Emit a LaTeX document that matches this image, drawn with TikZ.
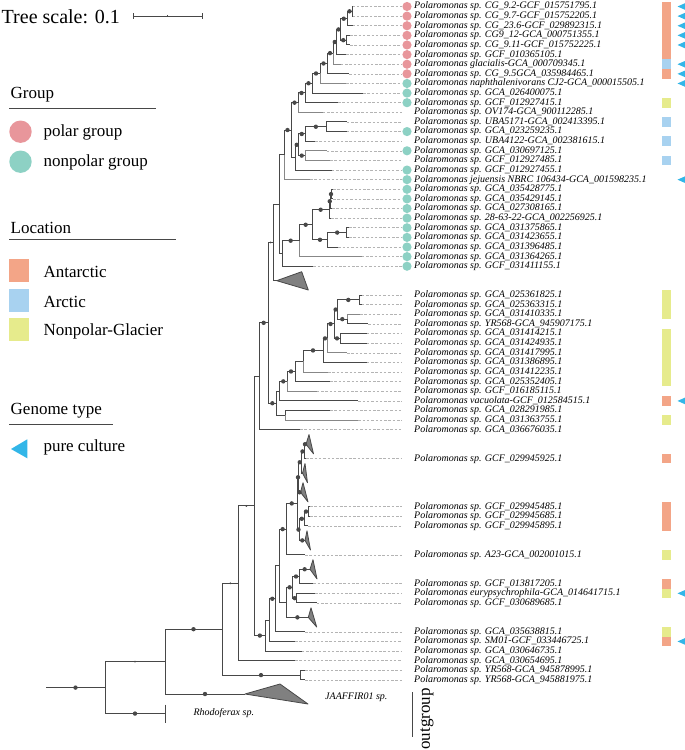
\documentclass[tikz,border=0pt]{standalone}
\usepackage{fontspec}
\setmainfont{Liberation Serif}
\usetikzlibrary{calc}
\definecolor{ast}{RGB}{72,72,72}
\definecolor{astlight}{RGB}{135,135,135}
\definecolor{leader}{RGB}{180,180,180}
\definecolor{polar}{RGB}{232,150,155}
\definecolor{nonpolar}{RGB}{141,209,196}
\definecolor{antarctic}{RGB}{243,165,135}
\definecolor{arctic}{RGB}{168,210,240}
\definecolor{glacier}{RGB}{230,235,140}
\definecolor{culture}{RGB}{50,182,232}
\definecolor{collapsed}{RGB}{128,128,128}

\begin{document}
\begin{tikzpicture}[x=1pt, y=-1pt,
  br/.style={draw=ast, line width=1pt},
  brlight/.style={draw=astlight, line width=1pt},
  bs/.style={circle, fill=ast, inner sep=0pt, minimum size=4.4pt},
  bssmall/.style={circle, fill=ast, inner sep=0pt, minimum size=2pt},
  lead/.style={draw=leader, line width=0.6pt, dash pattern=on 2.5pt off 1.8pt},
  leaf/.style={anchor=west, inner sep=0pt, text height=6.6pt, text depth=1.8pt, font=\fontsize{10}{10}\selectfont\itshape},
  leg/.style={anchor=base west, inner sep=0pt, font=\fontsize{17}{17}\selectfont},
  tri/.style={fill=collapsed, draw=ast, line width=0.8pt, line join=round}]

\useasboundingbox (0,0) rectangle (685,750);
\clip (0,0) rectangle (685,750);

% legend
\node[leg, font=\fontsize{20}{20}\selectfont] (scale) at (1.5,23.5) {Tree scale: 0.1};
\coordinate (sb0) at (133,16);
\coordinate (sb1) at (202,16);
\draw[ast, line width=0.8pt] (sb0) -- (sb1);
\draw[ast, line width=0.8pt] ([yshift=3pt]sb0) -- ([yshift=-3pt]sb0) ([yshift=3pt]sb1) -- ([yshift=-3pt]sb1)
  ($(sb0)!.5!(sb1)+(0,-1.2)$) -- ($(sb0)!.5!(sb1)+(0,1.2)$);

\node[leg] (hgroup) at (10.5,98) {Group};
\draw[ast, line width=1pt] (9,108) -- (156,108);
\fill[polar] (20.5,131.7) circle (11.2);
\node[leg] (gpolar) at (43.3,136.3) {polar group};
\fill[nonpolar] (20.5,161.7) circle (11.2);
\node[leg] (gnonpolar) at (43.3,166.3) {nonpolar group};

\node[leg] (hloc) at (10.5,233) {Location};
\draw[ast, line width=1pt] (9,239.3) -- (176,239.3);
\fill[antarctic] (9.3,259.3) rectangle (28.7,282.3);
\node[leg] (lant) at (43.3,277.3) {Antarctic};
\fill[arctic] (9.3,289.3) rectangle (28.7,312.3);
\node[leg] (larc) at (43.3,307.3) {Arctic};
\fill[glacier] (9.3,318.3) rectangle (28.7,340.7);
\node[leg] (lgla) at (43.3,335.6) {Nonpolar-Glacier};

\node[leg] (hgen) at (10.5,414.6) {Genome type};
\draw[ast, line width=1pt] (9,424) -- (113,424);
\fill[culture] (11,449) -- (27.3,439.3) -- (27.3,458.3) -- cycle;
\node[leg] (gpure) at (43.3,451.3) {pure culture};

% leaves: index / slot / tip x / label
\foreach \n/\sl/\xx/\lab in {
 1/0/352.5/{Polaromonas sp. CG\_9.2-GCF\_015751795.1},
 2/1/352.5/{Polaromonas sp. CG\_9.7-GCF\_015752205.1},
 3/2/352.5/{Polaromonas sp. CG\_23.6-GCF\_029892315.1},
 4/3/350/{Polaromonas sp. CG9\_12-GCA\_000751355.1},
 5/4/350/{Polaromonas sp. CG\_9.11-GCF\_015752225.1},
 6/5/346/{Polaromonas sp. GCF\_010365105.1},
 7/6/340.7/{Polaromonas glacialis-GCA\_000709345.1},
 8/7/349.3/{Polaromonas sp. CG\_9.5GCA\_035984465.1},
 9/8/346/{Polaromonas naphthalenivorans CJ2-GCA\_000015505.1},
 10/9/363/{Polaromonas sp. GCA\_026400075.1},
 11/10/338/{Polaromonas sp. GCF\_012927415.1},
 12/11/322.7/{Polaromonas sp. OV174-GCA\_900112285.1},
 13/12/346.7/{Polaromonas sp. UBA5171-GCA\_002413395.1},
 14/13/346.7/{Polaromonas sp. GCA\_023259235.1},
 15/14/315/{Polaromonas sp. UBA4122-GCA\_002381615.1},
 16/15/326.7/{Polaromonas sp. GCA\_030697125.1},
 17/16/330/{Polaromonas sp. GCF\_012927485.1},
 18/17/331.7/{Polaromonas sp. GCF\_012927455.1},
 19/18/310/{Polaromonas jejuensis NBRC 106434-GCA\_001598235.1},
 20/19/333/{Polaromonas sp. GCA\_035428775.1},
 21/20/333/{Polaromonas sp. GCA\_035429145.1},
 22/21/332/{Polaromonas sp. GCA\_027308165.1},
 23/22/331/{Polaromonas sp. 28-63-22-GCA\_002256925.1},
 24/23/349/{Polaromonas sp. GCA\_031375865.1},
 25/24/349/{Polaromonas sp. GCA\_031423655.1},
 26/25/338.3/{Polaromonas sp. GCA\_031396485.1},
 27/26/361.7/{Polaromonas sp. GCA\_031364265.1},
 28/27/313.3/{Polaromonas sp. GCF\_031411155.1},
 29/30/361.7/{Polaromonas sp. GCA\_025361825.1},
 30/31/361.7/{Polaromonas sp. GCA\_025363315.1},
 31/32/360/{Polaromonas sp. GCA\_031410335.1},
 32/33/368.3/{Polaromonas sp. YR568-GCA\_945907175.1},
 33/34/366.7/{Polaromonas sp. GCA\_031414215.1},
 34/35/366.7/{Polaromonas sp. GCA\_031424935.1},
 35/36/347/{Polaromonas sp. GCA\_031417995.1},
 36/37/366.7/{Polaromonas sp. GCA\_031386895.1},
 37/38/328/{Polaromonas sp. GCA\_031412235.1},
 38/39/330/{Polaromonas sp. GCA\_025352405.1},
 39/40/316.7/{Polaromonas sp. GCF\_016185115.1},
 40/41/358.3/{Polaromonas vacuolata-GCF\_012584515.1},
 41/42/330/{Polaromonas sp. GCA\_028291985.1},
 42/43/358.3/{Polaromonas sp. GCA\_031363755.1},
 43/44/300/{Polaromonas sp. GCA\_036676035.1},
 44/47/306/{Polaromonas sp. GCF\_029945925.1},
 45/52/310/{Polaromonas sp. GCF\_029945485.1},
 46/53/310/{Polaromonas sp. GCF\_029945685.1},
 47/54/308.3/{Polaromonas sp. GCF\_029945895.1},
 48/57/305/{Polaromonas sp. A23-GCA\_002001015.1},
 49/60/313.3/{Polaromonas sp. GCF\_013817205.1},
 50/61/315/{Polaromonas eurypsychrophila-GCA\_014641715.1},
 51/62/316.7/{Polaromonas sp. GCF\_030689685.1},
 52/65/305/{Polaromonas sp. GCA\_035638815.1},
 53/66/295/{Polaromonas sp. SM01-GCF\_033446725.1},
 54/67/301.7/{Polaromonas sp. GCA\_030646735.1},
 55/68/295/{Polaromonas sp. GCA\_030654695.1},
 56/69/305/{Polaromonas sp. YR568-GCA\_945878995.1},
 57/70/305/{Polaromonas sp. YR568-GCA\_945881975.1}}{
  \coordinate (l\n) at (\xx,{6.5+9.62*\sl});
  \node[leaf] (t\n) at (414,{6.5+9.62*\sl}) {\lab};
  \draw[lead] (l\n) -- ([xshift=-12.5pt]t\n.west);
}

% group circles
\foreach \n in {1,...,8}
  \fill[polar] ($(t\n.west)+(-7,0)$) circle (4.6);
\foreach \n in {9,10,11,14,16,18,19,20,21,22,23,24,25,26,27,28}
  \fill[nonpolar] ($(t\n.west)+(-7,0)$) circle (4.6);

% location strip
\foreach \a/\b/\c in {0/5/antarctic, 6/6/arctic, 7/7/antarctic, 10/10/glacier, 12/12/arctic,
  14/14/arctic, 16/16/arctic, 30/32/glacier, 34/39/glacier, 41/41/antarctic, 43/43/glacier,
  47/47/antarctic, 52/54/antarctic, 57/57/glacier, 60/60/antarctic, 61/61/glacier,
  65/65/glacier, 66/66/antarctic}
  \fill[\c] (662,{1.7+9.62*\a}) rectangle (671,{11.3+9.62*\b});

% genome type
\foreach \n in {1,2,3,4,5,7,8,9,19,40,50,53}
  \fill[culture] ($(t\n.west)+(263.5,0)$) -- ++(10,-4.4) -- ++(0,8.8) -- cycle;

% inner nodes
\coordinate (nA) at (352,11.31);
\coordinate (nB) at (347,18.72);
\coordinate (nD) at (346,40.17);
\coordinate (nC) at (340.5,29.44);
\coordinate (nE) at (336.5,42.02);
\coordinate (nF) at (333,53.12);
\coordinate (nG) at (327,63.48);
\coordinate (nH) at (320,73.47);
\coordinate (nI) at (312,83.28);
\coordinate (nJ) at (305,92.99);
\coordinate (nK) at (298,102.66);
\coordinate (nR) at (326.7,126.75);
\coordinate (nP) at (305,133.97);
\coordinate (nQ) at (305,155.61);
\coordinate (nN) at (298.5,144.79);
\coordinate (nM) at (295,157.42);
\coordinate (nL) at (291,130.04);
\coordinate (n13) at (284,154.85);
\coordinate (n20) at (331.5,194.09);
\coordinate (n19) at (330.5,201.31);
\coordinate (n17) at (329,209.73);
\coordinate (n21) at (346.7,232.57);
\coordinate (n18) at (327.7,239.79);
\coordinate (n16) at (312.3,224.76);
\coordinate (n15) at (299,240.69);
\coordinate (n14) at (282.3,253.47);
\coordinate (n12) at (279,204.16);
\coordinate (tA1) at (276.7,280.67);
\coordinate (n10) at (273.3,242.42);
\coordinate (s1) at (359.3,299.91);
\coordinate (s3) at (347.3,319.15);
\coordinate (s2) at (337.3,309.53);
\coordinate (s4) at (340,338.39);
\coordinate (s5) at (334,323.96);
\coordinate (s6) at (327,338.39);
\coordinate (s7) at (323,350.42);
\coordinate (s8) at (303,361.24);
\coordinate (s9) at (295,371.46);
\coordinate (s10) at (287,381.38);
\coordinate (s11) at (279.5,391.15);
\coordinate (s12) at (285,415.35);
\coordinate (n11) at (276.7,403.25);
\coordinate (n9) at (268,322.84);
\coordinate (n7) at (259.3,376.31);
\coordinate (tA2) at (306,444.21);
\coordinate (x2) at (304,451.43);
\coordinate (tA3) at (302.5,473.07);
\coordinate (x1) at (301,462.25);
\coordinate (tA4) at (300.5,492.31);
\coordinate (v1) at (298.5,477.28);
\coordinate (w2) at (308,511.55);
\coordinate (w1) at (304,518.77);
\coordinate (tA5) at (305,540.41);
\coordinate (v2) at (299.5,529.59);
\coordinate (u6) at (297.5,503.44);
\coordinate (u4) at (286,529.14);
\coordinate (tA6) at (310,569.27);
\coordinate (y1) at (299.3,576.49);
\coordinate (y2) at (296.7,598.13);
\coordinate (y3) at (292.7,587.31);
\coordinate (tA7) at (308.3,617.37);
\coordinate (y4) at (286.5,602.34);
\coordinate (u3) at (279.3,565.74);
\coordinate (u2) at (275.3,598.77);
\coordinate (u1) at (269.3,620.1);
\coordinate (n8) at (265.7,635.57);
\coordinate (n6) at (254,505.94);
\coordinate (n4) at (238.7,583.3);
\coordinate (n5) at (300,675.09);
\coordinate (n3) at (222,629.2);
\coordinate (tJ) at (245,694);
\coordinate (n2) at (165,661.6);
\coordinate (rh) at (165,713.57);
\coordinate (n1) at (105,687.59);
\coordinate (root) at (46,687.59);

% collapsed clades
\draw[tri] (tA1) -- (301.7,271.7) -- (308.3,290) -- cycle;
\draw[tri] (tA2) -- (309,434.6) -- (313.5,453.8) -- cycle;
\draw[tri] (tA3) -- (305,463.5) -- (307.5,482.7) -- cycle;
\draw[tri] (tA4) -- (303,482.7) -- (308,501.9) -- cycle;
\draw[tri] (tA5) -- (307,530.8) -- (310.5,550) -- cycle;
\draw[tri] (tA6) -- (313,559.7) -- (317,578.9) -- cycle;
\draw[tri] (tA7) -- (311,607.8) -- (316.7,627) -- cycle;
\draw[tri] (tJ) -- (280,684) -- (308,704) -- cycle;
\draw[br] ([yshift=9pt]rh) -- ([yshift=-9pt]rh);

% branches
\foreach \p/\c in {nA/l1, nA/l2, nB/l3, nD/l4, nD/l5, nE/l6, nG/l8, nI/l10, nJ/l11, nR/l13, nR/l14,
  nP/l15, nM/l18, n20/l20, n20/l21, n19/l22, n17/l23, n21/l24, n21/l25, n18/l26, n14/l28,
  s1/l29, s1/l30, s3/l32, s4/l33, s4/l34, s7/l36, s9/l38, s11/l40, s12/l41, n7/l43,
  x2/l44, w2/l45, w2/l46, w1/l47, u4/l48, y1/l49, y2/l50, y2/l51, u2/l52, u1/l53, n8/l54,
  n4/l55, n5/l56, n5/l57,
  nL/nM, n12/n13, n12/n14, n10/n12, n10/tA1, s9/s8, n11/s11, n11/s12, n6/n7, n8/u1,
  u2/u3, u3/y4, x1/tA3}
  \draw[br] (\p) |- (\c);
\foreach \p/\c in {nF/l7, nH/l9, nK/l12, nQ/l16, nQ/l17, n13/l19, n15/l27, s3/l31, s6/l35,
  s8/l37, s10/l39, s12/l42}
  \draw[brlight] (\p) |- (\c);
\foreach \p/\c in {nB/nA, nC/nB, nC/nD, nE/nC, nF/nE, nG/nF, nH/nG, nI/nH, nJ/nI, nK/nJ, nL/nK,
  n13/nL, nP/nR, nN/nP, nN/nQ, nM/nN, n19/n20, n17/n19, n16/n17, n18/n21, n16/n18,
  n15/n16, n14/n15, s2/s1, s2/s3, s5/s2, s5/s4, s6/s5, s7/s6, s8/s7, s10/s9, s11/s10,
  n9/n11, n7/n9, x2/tA2, x1/x2, v1/x1, v1/tA4, u6/v1, u6/v2, w1/w2, v2/w1, v2/tA5,
  u4/u6, u3/u4, y1/tA6, y3/y1, y3/y2, y4/y3, y4/tA7, u1/u2, n6/n8, n3/n5, n2/n3,
  n2/tJ, n1/rh}
  \draw[br] (\p) |- (\c) node[bs, pos=.75] {};
\foreach \p/\c in {n1/n2, n3/n4, n4/n6, n9/n10}
  \draw[br] (\p) |- (\c) node[bssmall, pos=.75] {};
\draw[br] (root) -- (n1) node[bs, midway] {};

% outgroup labels
\node[leaf] (jaaf) at (325,697) {JAAFFIR01 sp.};
\node[leaf] (rhodo) at (193.3,713.3) {Rhodoferax sp.};
\coordinate (og0) at (412.5,692);
\coordinate (og1) at (412.5,737);
\draw[ast, line width=1.6pt] (og0) -- (og1);
\node[rotate=90, inner sep=0pt, font=\fontsize{17}{17}\selectfont] (outg) at (427,719) {outgroup};

\end{tikzpicture}
\end{document}
